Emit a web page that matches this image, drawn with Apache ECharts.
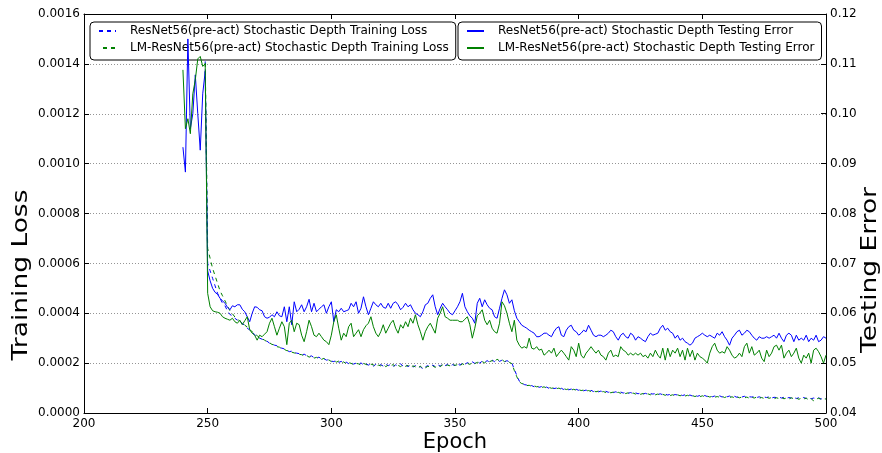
<!DOCTYPE html>
<html>
<head>
<meta charset="utf-8">
<script src="https://cdn.jsdelivr.net/npm/echarts@6/dist/echarts.min.js"></script>
<style>html,body{margin:0;padding:0;background:#fff}#c{width:882px;height:453px}</style>
</head>
<body>
<div id="c"></div>
<script>
// Testing error, epochs 240..500
var teStart = 240;
var teResNet = [
0.0933,0.0883,0.1150,0.0970,0.1000,0.1078,0.1000,0.0927,0.1040,0.1085,
0.0685,0.0665,0.0650,0.0642,0.0638,0.0630,0.0625,0.0620,0.0612,0.0607,
0.0615,0.0613,0.0617,0.0617,0.0608,0.0603,0.0593,0.0583,0.0600,0.0613,
0.0612,0.0607,0.0605,0.0593,0.0590,0.0592,0.0597,0.0593,0.0603,0.0595,
0.0593,0.0613,0.0583,0.0613,0.0577,0.0623,0.0603,0.0608,0.0617,0.0603,
0.0613,0.0628,0.0603,0.0620,0.0603,0.0608,0.0613,0.0617,0.0600,0.0613,
0.0623,0.0583,0.0607,0.0603,0.0610,0.0603,0.0605,0.0607,0.0620,0.0613,
0.0623,0.0600,0.0610,0.0633,0.0613,0.0597,0.0610,0.0623,0.0617,0.0613,
0.0620,0.0612,0.0610,0.0620,0.0610,0.0620,0.0623,0.0617,0.0607,0.0612,
0.0620,0.0613,0.0617,0.0607,0.0600,0.0597,0.0593,0.0603,0.0617,0.0620,
0.0630,0.0637,0.0613,0.0597,0.0610,0.0620,0.0613,0.0607,0.0600,0.0597,
0.0605,0.0613,0.0623,0.0640,0.0613,0.0603,0.0595,0.0590,0.0580,0.0620,
0.0630,0.0613,0.0627,0.0617,0.0610,0.0607,0.0593,0.0590,0.0610,0.0630,
0.0647,0.0637,0.0620,0.0627,0.0605,0.0590,0.0583,0.0576,0.0573,0.0570,
0.0566,0.0563,0.0560,0.0553,0.0553,0.0556,0.0560,0.0560,0.0556,0.0553,
0.0563,0.0570,0.0573,0.0556,0.0553,0.0566,0.0573,0.0576,0.0566,0.0563,
0.0556,0.0560,0.0566,0.0563,0.0576,0.0566,0.0556,0.0553,0.0556,0.0556,
0.0553,0.0556,0.0560,0.0566,0.0563,0.0553,0.0546,0.0556,0.0560,0.0553,
0.0550,0.0560,0.0556,0.0546,0.0553,0.0550,0.0546,0.0543,0.0553,0.0560,
0.0556,0.0558,0.0560,0.0570,0.0576,0.0566,0.0570,0.0563,0.0560,0.0550,
0.0556,0.0546,0.0550,0.0543,0.0540,0.0536,0.0540,0.0550,0.0553,0.0556,
0.0560,0.0556,0.0553,0.0556,0.0553,0.0550,0.0560,0.0556,0.0563,0.0553,
0.0546,0.0536,0.0550,0.0556,0.0563,0.0566,0.0556,0.0560,0.0566,0.0563,
0.0556,0.0550,0.0546,0.0553,0.0550,0.0550,0.0553,0.0550,0.0553,0.0556,
0.0550,0.0560,0.0550,0.0543,0.0556,0.0560,0.0556,0.0543,0.0556,0.0546,
0.0550,0.0546,0.0556,0.0543,0.0550,0.0546,0.0556,0.0543,0.0546,0.0553,
0.0550];
var teLM = [
0.1088,0.0970,0.0990,0.0960,0.1040,0.1068,0.1110,0.1115,0.1095,0.1100,
0.0640,0.0613,0.0605,0.0603,0.0602,0.0600,0.0593,0.0590,0.0588,0.0586,
0.0590,0.0583,0.0580,0.0586,0.0577,0.0585,0.0593,0.0567,0.0560,0.0556,
0.0546,0.0556,0.0553,0.0558,0.0563,0.0580,0.0590,0.0573,0.0556,0.0570,
0.0583,0.0573,0.0537,0.0580,0.0586,0.0563,0.0580,0.0577,0.0556,0.0543,
0.0563,0.0586,0.0573,0.0556,0.0553,0.0560,0.0553,0.0546,0.0543,0.0537,
0.0556,0.0583,0.0597,0.0570,0.0546,0.0560,0.0553,0.0573,0.0580,0.0553,
0.0560,0.0567,0.0553,0.0567,0.0575,0.0580,0.0593,0.0573,0.0560,0.0553,
0.0563,0.0577,0.0560,0.0570,0.0580,0.0586,0.0570,0.0560,0.0577,0.0570,
0.0583,0.0573,0.0590,0.0580,0.0597,0.0577,0.0563,0.0546,0.0563,0.0573,
0.0580,0.0570,0.0560,0.0590,0.0600,0.0613,0.0593,0.0590,0.0586,0.0586,
0.0586,0.0586,0.0583,0.0583,0.0588,0.0593,0.0577,0.0550,0.0570,0.0595,
0.0600,0.0607,0.0586,0.0577,0.0586,0.0570,0.0563,0.0560,0.0580,0.0623,
0.0615,0.0600,0.0580,0.0563,0.0586,0.0546,0.0536,0.0530,0.0533,0.0530,
0.0550,0.0530,0.0528,0.0533,0.0526,0.0528,0.0516,0.0520,0.0526,0.0520,
0.0530,0.0513,0.0520,0.0526,0.0520,0.0513,0.0506,0.0533,0.0526,0.0513,
0.0540,0.0516,0.0510,0.0520,0.0526,0.0533,0.0526,0.0520,0.0526,0.0516,
0.0513,0.0506,0.0520,0.0526,0.0513,0.0516,0.0513,0.0533,0.0526,0.0523,
0.0516,0.0520,0.0516,0.0520,0.0516,0.0520,0.0513,0.0516,0.0510,0.0520,
0.0513,0.0526,0.0516,0.0510,0.0530,0.0506,0.0530,0.0513,0.0526,0.0520,
0.0530,0.0513,0.0526,0.0506,0.0530,0.0513,0.0526,0.0506,0.0520,0.0513,
0.0510,0.0506,0.0500,0.0520,0.0533,0.0540,0.0526,0.0520,0.0523,0.0520,
0.0533,0.0526,0.0516,0.0510,0.0513,0.0520,0.0513,0.0533,0.0540,0.0520,
0.0533,0.0516,0.0520,0.0526,0.0510,0.0503,0.0526,0.0513,0.0520,0.0533,
0.0536,0.0526,0.0536,0.0510,0.0520,0.0526,0.0513,0.0520,0.0530,0.0510,
0.0500,0.0516,0.0510,0.0520,0.0500,0.0526,0.0530,0.0523,0.0513,0.0500,
0.0516];
// Training loss, epochs 249..500
var tlStart = 249;
var tlResNet = [
0.00141,
0.00060,0.00057,0.00054,0.00051,0.00048,0.00046,0.00044,0.00043,0.00041,0.000395,
0.000390,0.000380,0.000372,0.000366,0.000360,0.000350,0.000340,0.000333,0.000322,0.000315,
0.000305,0.000300,0.000296,0.000290,0.000288,0.000280,0.000277,0.000272,0.000270,0.000262,
0.000260,0.000257,0.000252,0.000246,0.000248,0.000243,0.000240,0.000238,0.000232,0.000236,
0.000230,0.000226,0.000229,0.000222,0.000220,0.000224,0.000216,0.000218,0.000212,0.000214,
0.000208,0.000206,0.000211,0.000203,0.000207,0.000200,0.000204,0.000198,0.000203,0.000196,
0.000200,0.000195,0.000201,0.000193,0.000198,0.000192,0.000197,0.000188,0.000195,0.000190,
0.000194,0.000188,0.000196,0.000190,0.000195,0.000187,0.000193,0.000189,0.000197,0.000188,
0.000194,0.000186,0.000192,0.000184,0.000190,0.000182,0.000186,0.000176,0.000185,0.000190,
0.000183,0.000192,0.000186,0.000194,0.000188,0.000196,0.000190,0.000195,0.000187,0.000194,
0.000190,0.000197,0.000192,0.000200,0.000195,0.000202,0.000197,0.000205,0.000199,0.000206,
0.000200,0.000208,0.000203,0.000210,0.000204,0.000212,0.000206,0.000214,0.000207,0.000212,
0.000204,0.000210,0.000205,0.000200,0.000175,0.000150,0.000128,0.000120,0.000114,0.000112,
0.000108,0.000110,0.000105,0.000108,0.000103,0.000106,0.000101,0.000104,0.000099,0.000102,
0.000098,0.000100,0.000096,0.000099,0.000094,0.000097,0.000093,0.000096,0.000092,0.000095,
0.000091,0.000093,0.000089,0.000092,0.000087,0.000091,0.000086,0.000089,0.000085,0.000088,
0.000084,0.000087,0.000083,0.000086,0.000082,0.000085,0.000081,0.000084,0.000080,0.000083,
0.000079,0.000082,0.000078,0.000081,0.000077,0.000080,0.000076,0.000079,0.000075,0.000078,
0.000076,0.000078,0.000074,0.000077,0.000073,0.000076,0.000072,0.000075,0.000071,0.000074,
0.000072,0.000074,0.000070,0.000073,0.000069,0.000072,0.000068,0.000071,0.000067,0.000070,
0.000068,0.000070,0.000066,0.000069,0.000065,0.000068,0.000066,0.000069,0.000064,0.000067,
0.000065,0.000068,0.000064,0.000067,0.000063,0.000066,0.000064,0.000067,0.000062,0.000065,
0.000064,0.000066,0.000062,0.000065,0.000061,0.000064,0.000062,0.000065,0.000060,0.000063,
0.000062,0.000064,0.000060,0.000063,0.000059,0.000062,0.000060,0.000063,0.000058,0.000061,
0.000060,0.000062,0.000058,0.000061,0.000057,0.000060,0.000058,0.000061,0.000056,0.000059,
0.000058];
var tlLM = [
0.00142,
0.00066,0.00062,0.00058,0.00055,0.00052,0.00049,0.00047,0.00045,0.00043,0.00041,
0.000398,0.000385,0.000378,0.000368,0.000362,0.000352,0.000345,0.000335,0.000326,0.000318,
0.000310,0.000302,0.000298,0.000292,0.000286,0.000282,0.000275,0.000273,0.000266,0.000264,
0.000258,0.000255,0.000250,0.000249,0.000244,0.000241,0.000238,0.000235,0.000234,0.000229,
0.000231,0.000224,0.000227,0.000220,0.000223,0.000218,0.000215,0.000219,0.000211,0.000213,
0.000206,0.000210,0.000204,0.000208,0.000201,0.000205,0.000197,0.000202,0.000199,0.000194,
0.000199,0.000197,0.000192,0.000199,0.000195,0.000190,0.000196,0.000193,0.000186,0.000192,
0.000189,0.000195,0.000186,0.000192,0.000190,0.000194,0.000185,0.000191,0.000186,0.000193,
0.000187,0.000191,0.000183,0.000189,0.000185,0.000180,0.000188,0.000178,0.000181,0.000187,
0.000185,0.000189,0.000183,0.000191,0.000186,0.000193,0.000188,0.000192,0.000189,0.000196,
0.000191,0.000194,0.000189,0.000197,0.000193,0.000199,0.000195,0.000202,0.000198,0.000203,
0.000203,0.000206,0.000201,0.000208,0.000206,0.000210,0.000204,0.000216,0.000209,0.000214,
0.000206,0.000212,0.000203,0.000198,0.000170,0.000145,0.000125,0.000118,0.000116,0.000110,
0.000111,0.000107,0.000109,0.000105,0.000107,0.000102,0.000105,0.000100,0.000103,0.000099,
0.000101,0.000097,0.000100,0.000095,0.000098,0.000094,0.000097,0.000092,0.000095,0.000091,
0.000094,0.000090,0.000092,0.000088,0.000090,0.000086,0.000089,0.000085,0.000088,0.000084,
0.000086,0.000082,0.000085,0.000081,0.000084,0.000080,0.000083,0.000079,0.000082,0.000078,
0.000081,0.000077,0.000080,0.000076,0.000079,0.000075,0.000078,0.000074,0.000077,0.000073,
0.000077,0.000073,0.000076,0.000072,0.000075,0.000071,0.000074,0.000070,0.000073,0.000069,
0.000073,0.000069,0.000072,0.000068,0.000071,0.000067,0.000070,0.000066,0.000069,0.000065,
0.000069,0.000065,0.000068,0.000064,0.000067,0.000063,0.000066,0.000063,0.000067,0.000062,
0.000066,0.000062,0.000065,0.000061,0.000065,0.000061,0.000064,0.000060,0.000064,0.000059,
0.000063,0.000060,0.000064,0.000059,0.000062,0.000058,0.000063,0.000059,0.000062,0.000057,
0.000061,0.000058,0.000062,0.000057,0.000060,0.000056,0.000061,0.000057,0.000060,0.000055,
0.000059,0.000056,0.000060,0.000052,0.000058,0.000048,0.000056,0.000059,0.000055,0.000057,
0.000056];

var names = [
  'ResNet56(pre-act) Stochastic Depth Training Loss',
  'LM-ResNet56(pre-act) Stochastic Depth Training Loss',
  'ResNet56(pre-act) Stochastic Depth Testing Error',
  'LM-ResNet56(pre-act) Stochastic Depth Testing Error'
];
var axisTitles = {x: 'Epoch', yLeft: 'Training Loss', yRight: 'Testing Error'};
var xTicks = {min: 200, max: 500, interval: 50};
var lossTicks = {min: 0, max: 0.0016, interval: 0.0002};
var errTicks = {min: 0.04, max: 0.12, interval: 0.01};

function pairs(start, arr) { return arr.map(function (v, i) { return [start + i, v]; }); }

var FONT = 'DejaVu Sans';
var chart = echarts.init(document.getElementById('c'), null, {renderer: 'canvas'});
var legendCommon = {
  orient: 'vertical', top: 22, itemWidth: 17, itemHeight: 12, itemGap: 5,
  padding: [3, 7, 6, 8], backgroundColor: '#ffffff', borderColor: '#000', borderWidth: 1,
  borderRadius: 4, itemStyle: {opacity: 0, borderWidth: 0},
  textStyle: {fontFamily: FONT, fontSize: 12, color: '#000', padding: [0, 0, 0, 9]},
  selectedMode: false
};
function vTitle(text, x, y) {
  return {type: 'text', x: x, y: y, rotation: Math.PI / 2, scaleX: 1.26, z: 10,
    style: {text: text, fontFamily: FONT, fontSize: 21, fill: '#000', align: 'center', verticalAlign: 'middle'}};
}
chart.setOption({
  animation: false,
  backgroundColor: '#fff',
  grid: {left: 84, right: 56, top: 14, bottom: 40, containLabel: false, outerBoundsMode: 'none'},
  legend: [
    Object.assign({}, legendCommon, {left: 90, data: [names[0], names[1]], z: 4}),
    Object.assign({}, legendCommon, {left: 458, data: [names[2], names[3]], z: 8})
  ],
  graphic: [vTitle(axisTitles.yLeft, 22, 275), vTitle(axisTitles.yRight, 871, 270)],
  xAxis: [{
    type: 'value', min: xTicks.min, max: xTicks.max, interval: xTicks.interval, position: 'bottom',
    axisLine: {show: true, lineStyle: {color: '#000', width: 1}},
    axisTick: {show: true, inside: true, length: 5, lineStyle: {color: '#000'}},
    axisLabel: {fontFamily: FONT, fontSize: 12, color: '#000', margin: 5},
    splitLine: {show: false},
    name: axisTitles.x, nameLocation: 'middle', nameGap: 19, nameMoveOverlap: false,
    nameTextStyle: {fontFamily: FONT, fontSize: 21, color: '#000', verticalAlign: 'top'}
  }, {
    type: 'value', min: xTicks.min, max: xTicks.max, interval: xTicks.interval, position: 'top',
    axisLine: {show: true, lineStyle: {color: '#000', width: 1}},
    axisTick: {show: true, inside: true, length: 5, lineStyle: {color: '#000'}},
    axisLabel: {show: false}, splitLine: {show: false}
  }],
  yAxis: [{
    type: 'value', min: lossTicks.min, max: lossTicks.max, interval: lossTicks.interval, position: 'left',
    axisLine: {show: true, lineStyle: {color: '#000', width: 1}},
    axisTick: {show: true, inside: true, length: 5, lineStyle: {color: '#000'}},
    axisLabel: {fontFamily: FONT, fontSize: 12, color: '#000', margin: 4,
      formatter: function (v) { return v.toFixed(4); }},
    splitLine: {show: true, lineStyle: {color: '#7a7a7a', type: [1, 2], width: 0.8}}
  }, {
    type: 'value', min: errTicks.min, max: errTicks.max, interval: errTicks.interval, position: 'right',
    axisLine: {show: true, lineStyle: {color: '#000', width: 1}},
    axisTick: {show: true, inside: true, length: 5, lineStyle: {color: '#000'}},
    axisLabel: {fontFamily: FONT, fontSize: 12, color: '#000', margin: 4,
      formatter: function (v) { return v.toFixed(2); }},
    splitLine: {show: false}
  }],
  series: [
    {name: names[0], type: 'line', xAxisIndex: 0, yAxisIndex: 0, symbol: 'none', z: 2,
     lineStyle: {color: '#0000ff', width: 1, type: [4, 4]}, itemStyle: {color: '#0000ff'},
     data: pairs(tlStart, tlResNet)},
    {name: names[1], type: 'line', xAxisIndex: 0, yAxisIndex: 0, symbol: 'none', z: 2,
     lineStyle: {color: '#008000', width: 1, type: [4, 4], dashOffset: 4}, itemStyle: {color: '#008000'},
     data: pairs(tlStart, tlLM)},
    {name: names[2], type: 'line', xAxisIndex: 0, yAxisIndex: 1, symbol: 'none', z: 6,
     lineStyle: {color: '#0000ff', width: 1}, itemStyle: {color: '#0000ff'},
     data: pairs(teStart, teResNet)},
    {name: names[3], type: 'line', xAxisIndex: 0, yAxisIndex: 1, symbol: 'none', z: 6,
     lineStyle: {color: '#008000', width: 1}, itemStyle: {color: '#008000'},
     data: pairs(teStart, teLM)}
  ]
});
</script>
</body>
</html>
